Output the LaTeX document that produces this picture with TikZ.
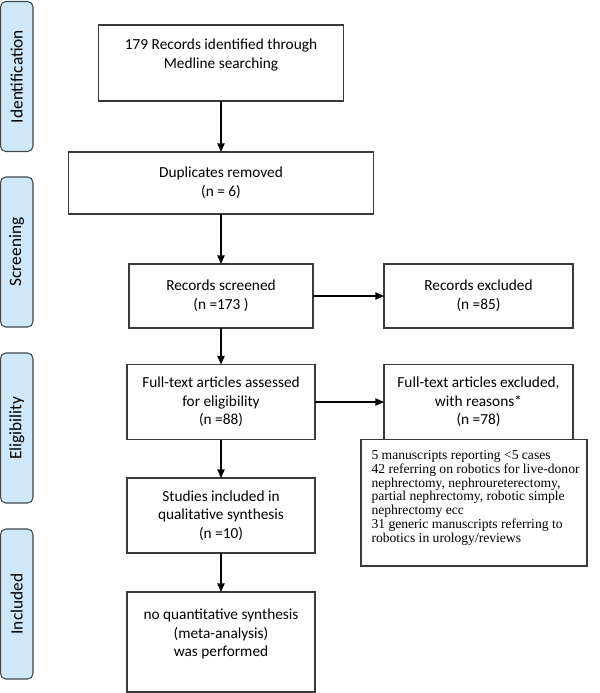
\documentclass[tikz,border=0pt]{standalone}
\usepackage{fontspec}
\setmainfont{Carlito}
\newfontfamily\reasonsfont{Liberation Serif}
\usetikzlibrary{arrows.meta}
\definecolor{sidefill}{HTML}{CFE8F9}
\definecolor{sidedraw}{HTML}{3F4448}
\definecolor{boxdraw}{HTML}{3A3A3A}
\begin{document}
\begin{tikzpicture}[x=0.75pt,y=-0.75pt,
  box/.style={draw=boxdraw,line width=0.8pt,fill=white,inner sep=0pt,outer sep=0pt,align=center,
    font=\fontsize{11.5}{14}\selectfont},
  side/.style={draw=sidedraw,line width=0.8pt,fill=sidefill,rounded corners=4pt,rotate=90,
    inner sep=0pt,outer sep=0pt,minimum width=150*0.75pt,minimum height=32.5*0.75pt,
    font=\fontsize{13}{15}\selectfont},
  reasontext/.style={inner sep=0pt,outer sep=0pt,anchor=north west,align=left,
    font=\reasonsfont\fontsize{10.2}{9.25}\selectfont},
  arr/.style={draw=black,line width=1pt,-{Triangle[length=6.5pt,width=5.5pt]}}]
\useasboundingbox (0,0) rectangle (600,693);
% side labels
\node[side] (sid) at (16.75,76.5) {Identification};
\node[side] (ssc) at (16.75,252) {Screening};
\node[side] (sel) at (16.75,428) {Eligibility};
\node[side] (sin) at (16.75,604) {Included};
% boxes
\node[box,minimum width=245*0.75pt,minimum height=76*0.75pt] (b1) at (221,63)
  {179 Records identified through\\Medline searching\\~};
\node[box,minimum width=305*0.75pt,minimum height=62*0.75pt] (b2) at (221,183)
  {Duplicates removed\\(n = 6)};
\node[box,minimum width=184*0.75pt,minimum height=64*0.75pt] (b3) at (221,296)
  {Records screened\\(n =173 )};
\node[box,minimum width=189*0.75pt,minimum height=64*0.75pt] (ex) at (478.5,296)
  {Records excluded\\(n =85)};
\node[box,minimum width=188*0.75pt,minimum height=75*0.75pt] (ft) at (221,402)
  {Full-text articles assessed\\for eligibility\\(n =88)};
\node[box,minimum width=189*0.75pt,minimum height=75*0.75pt] (fx) at (478.5,402)
  {Full-text articles excluded,\\with reasons*\\(n =78)};
\node[box,minimum width=226*0.75pt,minimum height=126.5*0.75pt] (rs) at (474,502.75) {};
\node[reasontext] (rst) at (371.5,450.5)
  {5 manuscripts reporting <5 cases\\
   42 referring on robotics for live-donor\\
   nephrectomy, nephroureterectomy,\\
   partial nephrectomy, robotic simple\\
   nephrectomy ecc\\
   31 generic manuscripts referring to\\
   robotics in urology/reviews};
\node[box,minimum width=188*0.75pt,minimum height=75*0.75pt] (st) at (221,515.5)
  {Studies included in\\qualitative synthesis\\(n =10)};
\node[box,minimum width=188*0.75pt,minimum height=100*0.75pt] (nq) at (221,642)
  {no quantitative synthesis\\(meta-analysis)\\was performed\\~};
% arrows
\draw[arr] (b1.south) -- (b2.north);
\draw[arr] (b2.south) -- (b3.north);
\draw[arr] (b3.south) -- (ft.north);
\draw[arr] (ft.south) -- (st.north);
\draw[arr] (st.south) -- (nq.north);
\draw[arr] (b3.east) -- (ex.west);
\draw[arr] (ft.east) -- (fx.west);
\end{tikzpicture}
\end{document}
